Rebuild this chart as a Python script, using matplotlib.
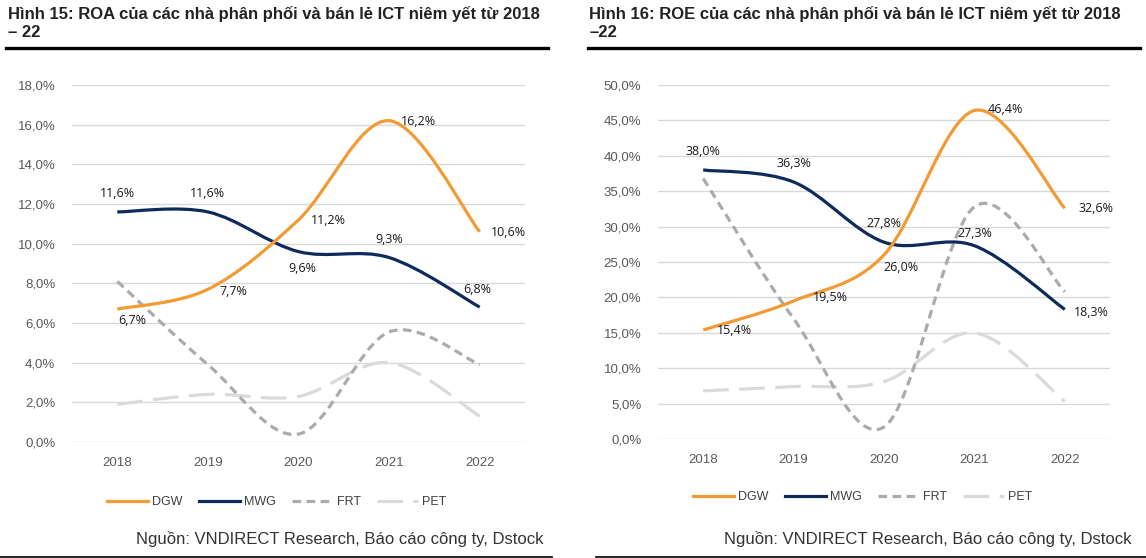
import numpy as np
import matplotlib.pyplot as plt
from matplotlib.path import Path
from matplotlib.patches import PathPatch
from matplotlib.lines import Line2D

# du lieu doc tu hinh
years = ['2018', '2019', '2020', '2021', '2022']
series = ['DGW', 'MWG', 'FRT', 'PET']

roa_dgw = [6.7, 7.7, 11.2, 16.2, 10.6]
roa_mwg = [11.6, 11.6, 9.6, 9.3, 6.8]
roa_frt = [8.1, 3.9, 0.4, 5.55, 3.9]
roa_pet = [1.9, 2.4, 2.3, 4.0, 1.3]

roe_dgw = [15.4, 19.5, 26.0, 46.4, 32.6]
roe_mwg = [38.0, 36.3, 27.8, 27.3, 18.3]
roe_frt = [36.8, 17.0, 1.7, 32.8, 20.8]
roe_pet = [6.8, 7.4, 8.1, 15.0, 5.3]

title_roa = 'Hình 15: ROA của các nhà phân phối và bán lẻ ICT niêm yết từ 2018\n– 22'
title_roe = 'Hình 16: ROE của các nhà phân phối và bán lẻ ICT niêm yết từ 2018\n–22'
source = 'Nguồn: VNDIRECT Research, Báo cáo công ty, Dstock'

# kieu duong
colors = {'DGW': '#F29A33', 'MWG': '#0E2B5C', 'FRT': '#ABABAB', 'PET': '#DADADA'}
styles = {'DGW': '-', 'MWG': '-', 'FRT': (0, (2.7, 1.7)), 'PET': (0, (8, 3.3))}
LW = 2.3

# vi tri nhan (px: dx, dy)
roa_dgw_off = [(15, -11), (25, -2), (30, -1), (29, -1), (29, -1)]
roa_mwg_off = [(0, 18), (0, 18), (4, -17), (0, 18), (-2, 18)]
roe_dgw_off = [(31, -1), (37, 3), (17, -13), (31, 1), (31, 0)]
roe_mwg_off = [(0, 18), (0, 18), (0, 19), (0, 12), (27, -3)]

plt.rcParams['font.family'] = ['Liberation Sans', 'DejaVu Sans']


def smooth_path(xs, ys):
    # duong cong kieu Excel (Catmull-Rom -> Bezier)
    P = np.column_stack([xs, ys]).astype(float)
    n = len(P)
    verts = [P[0]]
    codes = [Path.MOVETO]
    for i in range(n - 1):
        p0 = P[i - 1] if i > 0 else P[i]
        p3 = P[i + 2] if i + 2 < n else P[i + 1]
        c1 = P[i] + (P[i + 1] - p0) / 6
        c2 = P[i + 1] - (p3 - P[i]) / 6
        verts += [c1, c2, P[i + 1]]
        codes += [Path.CURVE4] * 3
    return Path(verts, codes)


def fmt(v):
    return ('%.1f%%' % v).replace('.', ',')


def draw(ax, data, offsets, ymax, ystep):
    x = np.arange(len(years))
    for name in ['PET', 'FRT', 'MWG', 'DGW']:
        patch = PathPatch(smooth_path(x, data[name]), fill=False,
                          edgecolor=colors[name], lw=LW, linestyle=styles[name],
                          capstyle='butt', zorder=3 if name in ('DGW', 'MWG') else 2)
        ax.add_patch(patch)
    for name in ['DGW', 'MWG']:
        for xi, v, (dx, dy) in zip(x, data[name], offsets[name]):
            ax.annotate(fmt(v), (xi, v), xytext=(dx * 0.72, dy * 0.72),
                        textcoords='offset points', ha='center', va='center',
                        fontsize=9, family='Open Sans', color='#1a1a1a', zorder=5)
    ax.set_xlim(-0.5, len(years) - 0.5)
    ax.set_ylim(0, ymax)
    ticks = np.arange(0, ymax + 0.01, ystep)
    ax.set_yticks(ticks)
    ax.set_yticklabels([fmt(t) for t in ticks])
    ax.set_xticks(x)
    ax.set_xticklabels(years)
    ax.grid(axis='y', color='#D9D9D9', lw=1.0)
    ax.set_axisbelow(True)
    for s in ax.spines.values():
        s.set_visible(False)
    ax.tick_params(length=0, labelsize=9.5, colors='#595959')
    ax.tick_params(axis='x', pad=11)
    ax.tick_params(axis='y', pad=12)


fig = plt.figure(figsize=(11.46, 5.58), dpi=100)
W, H = 1146, 558

ax1 = fig.add_axes([72 / W, (H - 442) / H, 453 / W, 357 / H])
ax2 = fig.add_axes([658 / W, (H - 439) / H, 452 / W, 354 / H])

draw(ax1, {'DGW': roa_dgw, 'MWG': roa_mwg, 'FRT': roa_frt, 'PET': roa_pet},
     {'DGW': roa_dgw_off, 'MWG': roa_mwg_off}, 18, 2)
draw(ax2, {'DGW': roe_dgw, 'MWG': roe_mwg, 'FRT': roe_frt, 'PET': roe_pet},
     {'DGW': roe_dgw_off, 'MWG': roe_mwg_off}, 50, 5)

handles = [Line2D([], [], color=colors[s], lw=LW, linestyle=styles[s]) for s in series]
for ax, lx, ly in [(ax1, 107, 502), (ax2, 693, 497)]:
    fig.legend(handles, series, loc='center left', bbox_to_anchor=(lx / W, 1 - ly / H),
               ncol=4, frameon=False, fontsize=9, handlelength=3.3, handletextpad=0.3,
               columnspacing=1.3, borderaxespad=0, borderpad=0, labelcolor='#404040')

# tieu de, nguon va duong ke
for tx, title in [(8, title_roa), (589, title_roe)]:
    fig.text(tx / W, 1 - 6 / H, title, ha='left', va='top', fontsize=12,
             fontweight='bold', color='#222222', linespacing=1.25)
fig.add_artist(Line2D([6 / W, 548 / W], [1 - 48 / H] * 2, color='black', lw=2.4))
fig.add_artist(Line2D([588 / W, 1140 / W], [1 - 48 / H] * 2, color='black', lw=2.4))

for tx in [543, 1131]:
    fig.text(tx / W, 1 - 539 / H, source, ha='right', va='center', fontsize=12,
             color='#333333')
fig.add_artist(Line2D([0, 552 / W], [1 - 557 / H] * 2, color='black', lw=1.2))
fig.add_artist(Line2D([596 / W, 1], [1 - 557 / H] * 2, color='black', lw=1.2))

fig.savefig('out.png', dpi=100)
